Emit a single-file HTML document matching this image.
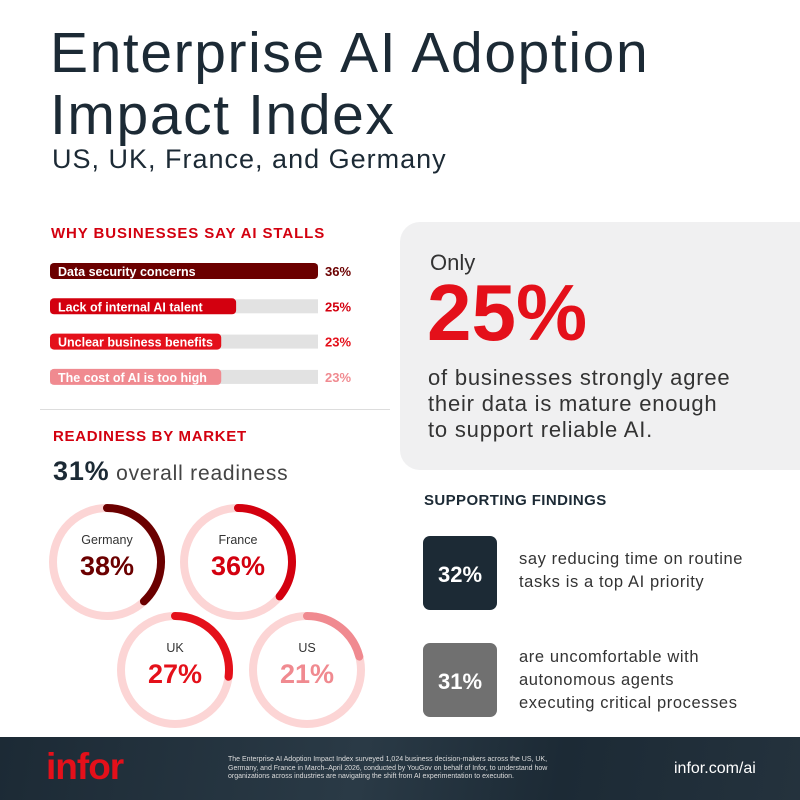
<!DOCTYPE html>
<html><head><meta charset="utf-8"><style>
body{margin:0;width:800px;height:800px;overflow:hidden;background:#fff;font-family:"Liberation Sans",sans-serif;position:relative;color:#1c2a35}
.a{position:absolute;white-space:nowrap}
</style></head><body>
<div class="a" style="left:50px;top:22px;font-size:57px;line-height:62px;letter-spacing:1.6px;color:#1c2a35">Enterprise AI Adoption<br>Impact Index</div>
<div class="a" style="left:52px;top:144px;font-size:27px;letter-spacing:1px;color:#1c2a35">US, UK, France, and Germany</div>
<div class="a" style="left:51px;top:225px;font-size:15px;font-weight:bold;letter-spacing:0.9px;color:#d3000f">WHY BUSINESSES SAY AI STALLS</div>
<svg id="bars" class="a" style="left:0;top:250px" width="400" height="145"></svg>
<div class="a" style="left:40px;top:409px;width:350px;height:1px;background:#ddd"></div>
<div class="a" style="left:53px;top:428px;font-size:15px;font-weight:bold;letter-spacing:0.7px;color:#d3000f">READINESS BY MARKET</div>
<div class="a" style="left:53px;top:456px;font-size:21px;letter-spacing:0.8px;color:#444"><b style="font-size:27px;color:#1c2a35">31%</b> overall readiness</div>
<svg id="donuts" class="a" style="left:0;top:490px" width="400" height="245"></svg>
<div class="a" style="left:400px;top:222px;width:420px;height:248px;background:#f0f0f1;border-radius:20px"></div>
<div class="a" style="left:430px;top:250px;font-size:22px;color:#333">Only</div>
<div class="a" style="left:427px;top:272px;font-size:80px;font-weight:bold;color:#e4101a;line-height:82px">25%</div>
<div class="a" style="left:428px;top:365px;font-size:22px;line-height:26px;letter-spacing:0.8px;color:#333">of businesses strongly agree<br>their data is mature enough<br>to support reliable AI.</div>
<div class="a" style="left:424px;top:492px;font-size:15px;font-weight:bold;letter-spacing:0.4px;color:#1c2a35">SUPPORTING FINDINGS</div>
<div class="a" style="left:423px;top:536px;width:74px;height:74px;background:#1c2a35;border-radius:7px;color:#fff;font-size:22px;font-weight:bold;text-align:center;line-height:78px">32%</div>
<div class="a" style="left:519px;top:548px;font-size:16.5px;line-height:23px;letter-spacing:0.6px;color:#333">say reducing time on routine<br>tasks is a top AI priority</div>
<div class="a" style="left:423px;top:643px;width:74px;height:74px;background:#707070;border-radius:7px;color:#fff;font-size:22px;font-weight:bold;text-align:center;line-height:78px">31%</div>
<div class="a" style="left:519px;top:646px;font-size:16.5px;line-height:23px;letter-spacing:0.6px;color:#333">are uncomfortable with<br>autonomous agents<br>executing critical processes</div>
<div class="a" style="left:0;top:737px;width:800px;height:63px;background:linear-gradient(100deg,#1c2a35 0%,#2a3a46 45%,#1c2a35 70%,#24323d 100%)"></div>
<div class="a" style="left:46px;top:746px;font-size:37px;font-weight:bold;color:#e4101a;letter-spacing:-1px">infor</div>
<div class="a" style="left:228px;top:756px;font-size:7px;line-height:8.5px;color:#ddd">The Enterprise AI Adoption Impact Index surveyed 1,024 business decision-makers across the US, UK,<br>Germany, and France in March–April 2026, conducted by YouGov on behalf of Infor, to understand how<br>organizations across industries are navigating the shift from AI experimentation to execution.</div>
<div class="a" style="left:674px;top:760px;font-size:16px;color:#fff">infor.com/ai</div>
<script>
const reasons=["Data security concerns","Lack of internal AI talent","Unclear business benefits","The cost of AI is too high"];
const reasonValues=[36,25,23,23];
const reasonColors=["#6b0000","#d3000f","#e4101a","#f08a90"];
const markets=["Germany","France","UK","US"];
const marketValues=[38,36,27,21];
const marketColors=["#6b0000","#d3000f","#e4101a","#f08a90"];
const NS="http://www.w3.org/2000/svg";
function mk(p,t,at){const e=document.createElementNS(NS,t);for(const k in at)e.setAttribute(k,at[k]);p.appendChild(e);return e;}
const bs=document.getElementById('bars');
const x0=50,wMax=268,maxV=36;const xs=v=>v/maxV*wMax;
reasons.forEach((r,i)=>{const y=14+i*35.3;
 const tr=mk(bs,'rect',{x:x0,y:y,width:wMax,height:14,fill:'#e2e2e2'});
 
 const b=mk(bs,'rect',{x:x0,y:y-1,width:xs(reasonValues[i]),height:16,rx:4,fill:reasonColors[i]});
 
 const t=mk(bs,'text',{x:x0+8,y:y+12,'font-size':12.5,'font-weight':'bold',fill:'#fff','font-family':'Liberation Sans, sans-serif'});t.textContent=r;
 
 const v=mk(bs,'text',{x:325,y:y+12,'font-size':13,'font-weight':'bold',fill:reasonColors[i],'font-family':'Liberation Sans, sans-serif'});v.textContent=reasonValues[i]+'%';
 
});
const ds=document.getElementById('donuts');
const cen=[[107,72],[238,72],[175,180],[307,180]];const R=54;
markets.forEach((m,i)=>{const [cx,cy]=cen[i];
 const c=mk(ds,'circle',{cx:cx,cy:cy,r:R,fill:'none',stroke:'#fcd5d5','stroke-width':8});
 
 const a=marketValues[i]/100*2*Math.PI;
 const ex=cx+R*Math.sin(a),ey=cy-R*Math.cos(a);
 const p=mk(ds,'path',{d:`M${cx} ${cy-R} A${R} ${R} 0 ${a>Math.PI?1:0} 1 ${ex} ${ey}`,fill:'none',stroke:marketColors[i],'stroke-width':8,'stroke-linecap':'round'});
 
 const l=mk(ds,'text',{x:cx,y:cy-18,'text-anchor':'middle','font-size':12.5,fill:'#333','font-family':'Liberation Sans, sans-serif'});l.textContent=m;
 
 const v=mk(ds,'text',{x:cx,y:cy+13,'text-anchor':'middle','font-size':27,'font-weight':'bold',fill:marketColors[i],'font-family':'Liberation Sans, sans-serif'});v.textContent=marketValues[i]+'%';
 
});
</script>
</body></html>
